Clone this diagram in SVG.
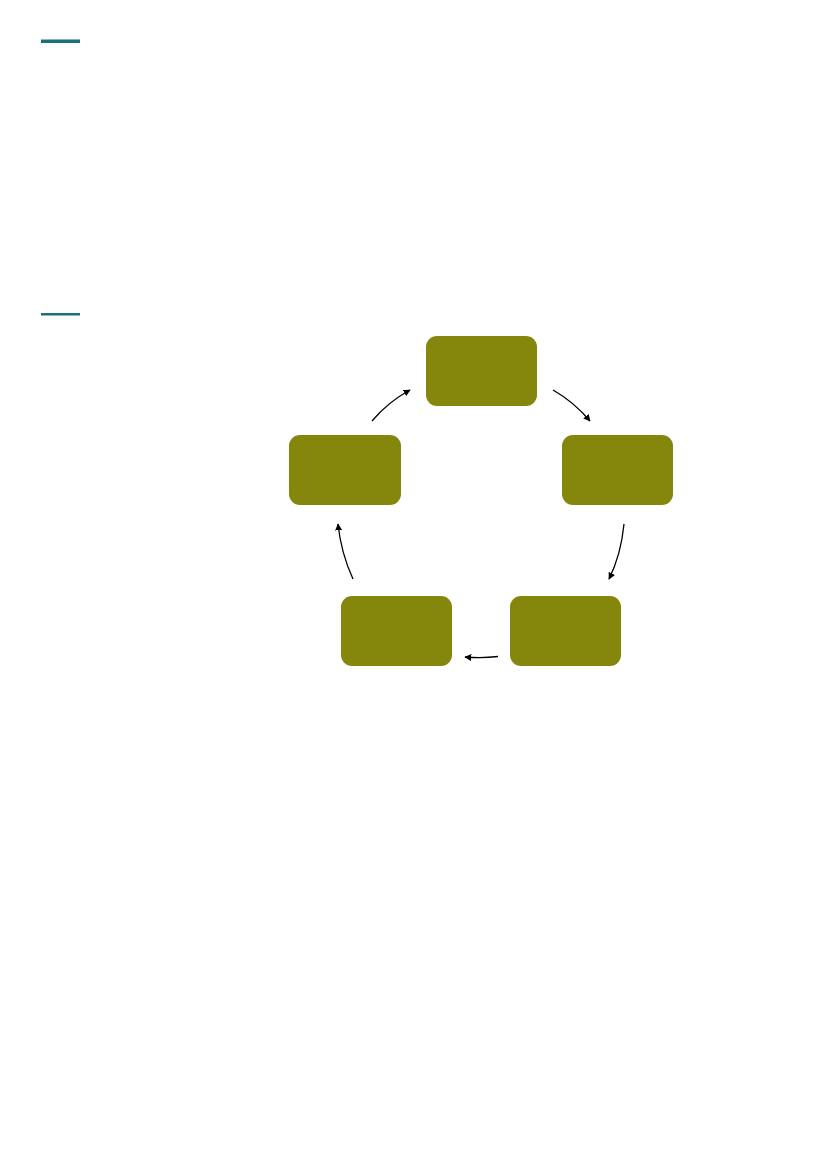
<svg xmlns="http://www.w3.org/2000/svg" width="827" height="1169" viewBox="0 0 827 1169">
<style>
.node{fill:#84870c}
.bar{fill:#17707a}
.conn{fill:none;stroke:#000;stroke-width:1.3;marker-end:url(#ah)}
</style>
<defs>
<marker id="ah" viewBox="0 0 10 10" refX="9" refY="5" markerWidth="7" markerHeight="7" markerUnits="userSpaceOnUse" orient="auto">
<path d="M0,0 L10,5 L0,10 z" fill="#000"/>
</marker>
</defs>
<rect width="827" height="1169" fill="#fff"/>
<rect class="bar" x="41" y="39.5" width="39" height="3.5"/>
<rect class="bar" x="41" y="313" width="39" height="2.5"/>
<g id="node-top"><rect class="node" x="426" y="336" width="111" height="70" rx="11"/></g>
<g id="node-right"><rect class="node" x="562" y="435" width="111" height="70" rx="11"/></g>
<g id="node-bottom-right"><rect class="node" x="510" y="596" width="111" height="70" rx="11"/></g>
<g id="node-bottom-left"><rect class="node" x="341" y="596" width="111" height="70" rx="11"/></g>
<g id="node-left"><rect class="node" x="289" y="435" width="112" height="70" rx="11"/></g>
<g id="connectors">
<path class="conn" d="M372,421 Q388,402 410,390"/>
<path class="conn" d="M553,390 Q574,402 590,421"/>
<path class="conn" d="M624,524 Q621,555 609,579"/>
<path class="conn" d="M498,656.5 Q482,658.5 465,657"/>
<path class="conn" d="M353,579 Q341,553 338,524"/>
</g>
</svg>
